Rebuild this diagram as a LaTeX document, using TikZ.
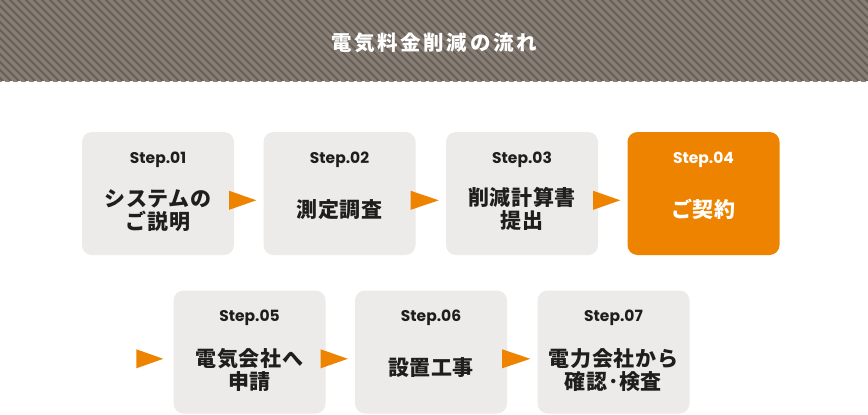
\documentclass[tikz,border=0pt]{standalone}
\usepackage{fontspec}
\usetikzlibrary{calc}
\newfontfamily\jpfont{Noto Sans CJK JP}[LetterSpace=3]
\newfontfamily\jptitle{Noto Sans CJK JP}[LetterSpace=13]
\newfontfamily\stepfont{Poppins}
\definecolor{stripeA}{HTML}{685F58}
\definecolor{stripeB}{HTML}{877E76}
\definecolor{boxgray}{HTML}{EDEBE9}
\definecolor{accent}{HTML}{EE8300}
\definecolor{ink}{HTML}{1E1E1E}
\tikzset{
  stepbox/.style={fill=boxgray, rounded corners=10pt, minimum width=152pt, minimum height=123pt, inner sep=0pt},
  activebox/.style={stepbox, fill=accent},
  steplabel/.style={font=\stepfont\bfseries\fontsize{15.5}{18}\selectfont, text=ink, inner sep=0pt},
  maintext/.style={font=\jpfont\bfseries\fontsize{21}{23}\selectfont, text=ink, align=center, inner sep=0pt},
  arrowtri/.style={fill=accent},
}
\begin{document}
\begin{tikzpicture}[x=1pt,y=-1pt]
\useasboundingbox (0,0) rectangle (868,415);
\fill[white] (0,0) rectangle (868,415);
% header band
\begin{scope}
\clip (0,0) rectangle (868,81);
\fill[stripeA] (0,0) rectangle (868,81);
\foreach \i in {-100,-92,...,880} {
  \draw[stripeB, line width=3.2pt] (\i,-2) -- (\i+85,83);
}
\end{scope}
\node[font=\jptitle\bfseries\fontsize{20.5}{22}\selectfont, text=white, inner sep=0pt] (title) at (434,43) {電気料金削減の流れ};
% boxes
\node[stepbox] (b1) at (158,193.5) {};
\node[stepbox] (b2) at (339.5,193.5) {};
\node[stepbox] (b3) at (522,193.5) {};
\node[activebox] (b4) at (703.5,193.5) {};
\node[stepbox] (b5) at (249.5,352) {};
\node[stepbox] (b6) at (431,352) {};
\node[stepbox] (b7) at (613.5,352) {};
% step labels
\node[steplabel] (s1) at ($(b1.north)+(0,27.5)$) {Step.01};
\node[steplabel] (s2) at ($(b2.north)+(0,27.5)$) {Step.02};
\node[steplabel] (s3) at ($(b3.north)+(0,27.5)$) {Step.03};
\node[steplabel, text=white] (s4) at ($(b4.north)+(0,27.5)$) {Step.04};
\node[steplabel] (s5) at ($(b5.north)+(0,27.5)$) {Step.05};
\node[steplabel] (s6) at ($(b6.north)+(0,27.5)$) {Step.06};
\node[steplabel] (s7) at ($(b7.north)+(0,27.5)$) {Step.07};
% main texts
\node[maintext] (t1) at ($(b1.north)+(0,78.5)$) {システムの\\ご説明};
\node[maintext] (t2) at ($(b2.north)+(0,78)$) {測定調査};
\node[maintext] (t3) at ($(b3.north)+(0,77.5)$) {削減計算書\\提出};
\node[maintext, text=white] (t4) at ($(b4.north)+(0,78)$) {ご契約};
\node[maintext] (t5) at ($(b5.north)+(0,80)$) {電気会社へ\\申請};
\node[maintext] (t6) at ($(b6.north)+(0,77)$) {設置工事};
\node[maintext] (t7) at ($(b7.north)+(0,80)$) {電力会社から\\確認･検査};
% arrows
\foreach \a/\b in {b1/b2,b2/b3,b3/b4,b5/b6,b6/b7} {
  \fill[arrowtri] ($(\a.north east)+(-5,59)$) -- ($(\b.north west)+(-7,68.5)$) -- ($(\a.north east)+(-5,78)$) -- cycle;
}
\fill[arrowtri] ($(b5.north west)+(-37,59)$) -- ($(b5.north west)+(-10,68.5)$) -- ($(b5.north west)+(-37,78)$) -- cycle;
\end{tikzpicture}
\end{document}
